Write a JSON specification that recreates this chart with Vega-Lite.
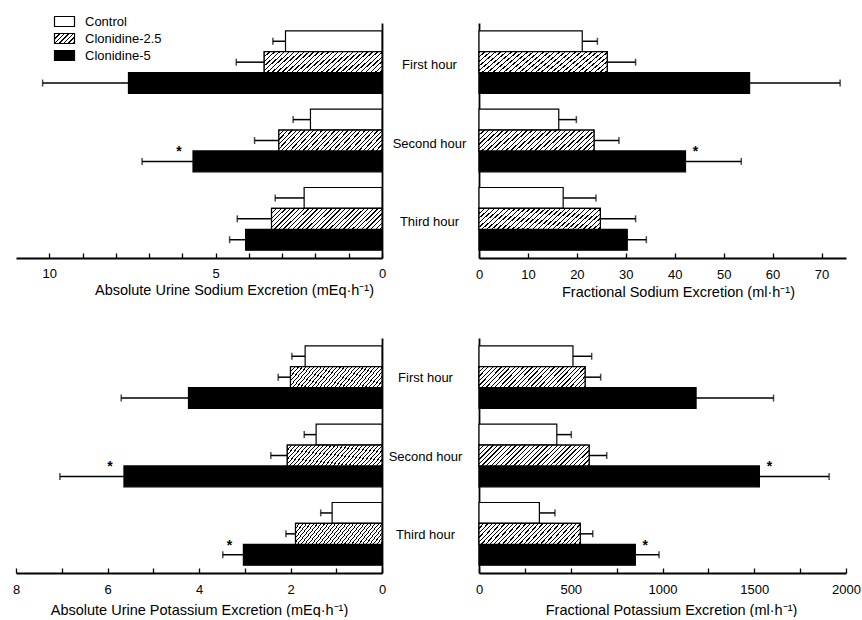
{
  "$schema": "https://vega.github.io/schema/vega-lite/v6.json",
  "background": "white",
  "padding": {"left": 12, "top": 15, "right": 0, "bottom": 0},
  "params": [
    {"name": "hatch", "value": {"gradient": "linear", "x1": 0, "y1": 0, "x2": 1.149, "y2": 0.22, "stops": [
      {"offset": 0, "color": "#000"}, {"offset": 0.01, "color": "#000"}, {"offset": 0.01, "color": "#fff"}, {"offset": 0.035, "color": "#fff"},
      {"offset": 0.035, "color": "#000"}, {"offset": 0.045, "color": "#000"}, {"offset": 0.045, "color": "#fff"}, {"offset": 0.07, "color": "#fff"},
      {"offset": 0.07, "color": "#000"}, {"offset": 0.08, "color": "#000"}, {"offset": 0.08, "color": "#fff"}, {"offset": 0.105, "color": "#fff"},
      {"offset": 0.105, "color": "#000"}, {"offset": 0.115, "color": "#000"}, {"offset": 0.115, "color": "#fff"}, {"offset": 0.14, "color": "#fff"},
      {"offset": 0.14, "color": "#000"}, {"offset": 0.15, "color": "#000"}, {"offset": 0.15, "color": "#fff"}, {"offset": 0.175, "color": "#fff"},
      {"offset": 0.175, "color": "#000"}, {"offset": 0.185, "color": "#000"}, {"offset": 0.185, "color": "#fff"}, {"offset": 0.21, "color": "#fff"},
      {"offset": 0.21, "color": "#000"}, {"offset": 0.22, "color": "#000"}, {"offset": 0.22, "color": "#fff"}, {"offset": 0.245, "color": "#fff"},
      {"offset": 0.245, "color": "#000"}, {"offset": 0.255, "color": "#000"}, {"offset": 0.255, "color": "#fff"}, {"offset": 0.28, "color": "#fff"},
      {"offset": 0.28, "color": "#000"}, {"offset": 0.29, "color": "#000"}, {"offset": 0.29, "color": "#fff"}, {"offset": 0.315, "color": "#fff"},
      {"offset": 0.315, "color": "#000"}, {"offset": 0.325, "color": "#000"}, {"offset": 0.325, "color": "#fff"}, {"offset": 0.35, "color": "#fff"},
      {"offset": 0.35, "color": "#000"}, {"offset": 0.36, "color": "#000"}, {"offset": 0.36, "color": "#fff"}, {"offset": 0.385, "color": "#fff"},
      {"offset": 0.385, "color": "#000"}, {"offset": 0.395, "color": "#000"}, {"offset": 0.395, "color": "#fff"}, {"offset": 0.42, "color": "#fff"},
      {"offset": 0.42, "color": "#000"}, {"offset": 0.43, "color": "#000"}, {"offset": 0.43, "color": "#fff"}, {"offset": 0.455, "color": "#fff"},
      {"offset": 0.455, "color": "#000"}, {"offset": 0.465, "color": "#000"}, {"offset": 0.465, "color": "#fff"}, {"offset": 0.49, "color": "#fff"},
      {"offset": 0.49, "color": "#000"}, {"offset": 0.5, "color": "#000"}, {"offset": 0.5, "color": "#fff"}, {"offset": 0.525, "color": "#fff"},
      {"offset": 0.525, "color": "#000"}, {"offset": 0.535, "color": "#000"}, {"offset": 0.535, "color": "#fff"}, {"offset": 0.56, "color": "#fff"},
      {"offset": 0.56, "color": "#000"}, {"offset": 0.57, "color": "#000"}, {"offset": 0.57, "color": "#fff"}, {"offset": 0.595, "color": "#fff"},
      {"offset": 0.595, "color": "#000"}, {"offset": 0.605, "color": "#000"}, {"offset": 0.605, "color": "#fff"}, {"offset": 0.63, "color": "#fff"},
      {"offset": 0.63, "color": "#000"}, {"offset": 0.64, "color": "#000"}, {"offset": 0.64, "color": "#fff"}, {"offset": 0.665, "color": "#fff"},
      {"offset": 0.665, "color": "#000"}, {"offset": 0.675, "color": "#000"}, {"offset": 0.675, "color": "#fff"}, {"offset": 0.7, "color": "#fff"},
      {"offset": 0.7, "color": "#000"}, {"offset": 0.71, "color": "#000"}, {"offset": 0.71, "color": "#fff"}, {"offset": 0.735, "color": "#fff"},
      {"offset": 0.735, "color": "#000"}, {"offset": 0.745, "color": "#000"}, {"offset": 0.745, "color": "#fff"}, {"offset": 0.77, "color": "#fff"},
      {"offset": 0.77, "color": "#000"}, {"offset": 0.78, "color": "#000"}, {"offset": 0.78, "color": "#fff"}, {"offset": 0.805, "color": "#fff"},
      {"offset": 0.805, "color": "#000"}, {"offset": 0.815, "color": "#000"}, {"offset": 0.815, "color": "#fff"}, {"offset": 0.84, "color": "#fff"},
      {"offset": 0.84, "color": "#000"}, {"offset": 0.85, "color": "#000"}, {"offset": 0.85, "color": "#fff"}, {"offset": 0.875, "color": "#fff"},
      {"offset": 0.875, "color": "#000"}, {"offset": 0.885, "color": "#000"}, {"offset": 0.885, "color": "#fff"}, {"offset": 0.91, "color": "#fff"},
      {"offset": 0.91, "color": "#000"}, {"offset": 0.92, "color": "#000"}, {"offset": 0.92, "color": "#fff"}, {"offset": 0.945, "color": "#fff"},
      {"offset": 0.945, "color": "#000"}, {"offset": 0.955, "color": "#000"}, {"offset": 0.955, "color": "#fff"}, {"offset": 0.98, "color": "#fff"},
      {"offset": 0.98, "color": "#000"}, {"offset": 0.99, "color": "#000"}, {"offset": 0.99, "color": "#fff"}, {"offset": 1, "color": "#fff"}
    ]}},
    {"name": "hatchLegend", "value": {"gradient": "linear", "x1": 0, "y1": 0, "x2": 1.2, "y2": 0.6, "stops": [
      {"offset": 0, "color": "#000"}, {"offset": 0.05, "color": "#000"}, {"offset": 0.05, "color": "#fff"}, {"offset": 0.15, "color": "#fff"},
      {"offset": 0.15, "color": "#000"}, {"offset": 0.2, "color": "#000"}, {"offset": 0.2, "color": "#fff"}, {"offset": 0.3, "color": "#fff"},
      {"offset": 0.3, "color": "#000"}, {"offset": 0.35, "color": "#000"}, {"offset": 0.35, "color": "#fff"}, {"offset": 0.45, "color": "#fff"},
      {"offset": 0.45, "color": "#000"}, {"offset": 0.5, "color": "#000"}, {"offset": 0.5, "color": "#fff"}, {"offset": 0.6, "color": "#fff"},
      {"offset": 0.6, "color": "#000"}, {"offset": 0.65, "color": "#000"}, {"offset": 0.65, "color": "#fff"}, {"offset": 0.75, "color": "#fff"},
      {"offset": 0.75, "color": "#000"}, {"offset": 0.8, "color": "#000"}, {"offset": 0.8, "color": "#fff"}, {"offset": 0.9, "color": "#fff"},
      {"offset": 0.9, "color": "#000"}, {"offset": 0.95, "color": "#000"}, {"offset": 0.95, "color": "#fff"}, {"offset": 1, "color": "#fff"}
    ]}}
  ],
  "config": {
    "font": "Liberation Sans",
    "view": {"stroke": null},
    "axis": {
      "labelFont": "Liberation Sans", "labelFontSize": 13, "labelColor": "black", "labelFlush": false,
      "titleFont": "Liberation Sans", "titleFontSize": 14.5, "titleFontWeight": "normal", "titleColor": "black",
      "domainColor": "black", "domainWidth": 1.8, "tickColor": "black", "tickWidth": 1.3, "grid": false
    },
    "legend": {"labelFont": "Liberation Sans", "labelFontSize": 13, "labelColor": "black"}
  },
  "datasets": {
    "d": [
      {"m": "SA", "hour": "First hour", "group": "Control", "mean": 2.9, "upper": 3.28, "sig": false},
      {"m": "SA", "hour": "First hour", "group": "Clonidine-2.5", "mean": 3.54, "upper": 4.38, "sig": false},
      {"m": "SA", "hour": "First hour", "group": "Clonidine-5", "mean": 7.62, "upper": 10.2, "sig": false},
      {"m": "SA", "hour": "Second hour", "group": "Control", "mean": 2.15, "upper": 2.67, "sig": false},
      {"m": "SA", "hour": "Second hour", "group": "Clonidine-2.5", "mean": 3.1, "upper": 3.83, "sig": false},
      {"m": "SA", "hour": "Second hour", "group": "Clonidine-5", "mean": 5.68, "upper": 7.21, "sig": true},
      {"m": "SA", "hour": "Third hour", "group": "Control", "mean": 2.34, "upper": 3.21, "sig": false},
      {"m": "SA", "hour": "Third hour", "group": "Clonidine-2.5", "mean": 3.32, "upper": 4.35, "sig": false},
      {"m": "SA", "hour": "Third hour", "group": "Clonidine-5", "mean": 4.1, "upper": 4.58, "sig": false},
      {"m": "SF", "hour": "First hour", "group": "Control", "mean": 21.1, "upper": 24.2, "sig": false},
      {"m": "SF", "hour": "First hour", "group": "Clonidine-2.5", "mean": 26.2, "upper": 32.0, "sig": false},
      {"m": "SF", "hour": "First hour", "group": "Clonidine-5", "mean": 55.3, "upper": 73.8, "sig": false},
      {"m": "SF", "hour": "Second hour", "group": "Control", "mean": 16.3, "upper": 19.9, "sig": false},
      {"m": "SF", "hour": "Second hour", "group": "Clonidine-2.5", "mean": 23.5, "upper": 28.6, "sig": false},
      {"m": "SF", "hour": "Second hour", "group": "Clonidine-5", "mean": 42.2, "upper": 53.6, "sig": true},
      {"m": "SF", "hour": "Third hour", "group": "Control", "mean": 17.2, "upper": 23.9, "sig": false},
      {"m": "SF", "hour": "Third hour", "group": "Clonidine-2.5", "mean": 24.8, "upper": 32.0, "sig": false},
      {"m": "SF", "hour": "Third hour", "group": "Clonidine-5", "mean": 30.3, "upper": 34.2, "sig": false},
      {"m": "KA", "hour": "First hour", "group": "Control", "mean": 1.68, "upper": 1.97, "sig": false},
      {"m": "KA", "hour": "First hour", "group": "Clonidine-2.5", "mean": 2.0, "upper": 2.27, "sig": false},
      {"m": "KA", "hour": "First hour", "group": "Clonidine-5", "mean": 4.23, "upper": 5.7, "sig": false},
      {"m": "KA", "hour": "Second hour", "group": "Control", "mean": 1.44, "upper": 1.7, "sig": false},
      {"m": "KA", "hour": "Second hour", "group": "Clonidine-2.5", "mean": 2.07, "upper": 2.43, "sig": false},
      {"m": "KA", "hour": "Second hour", "group": "Clonidine-5", "mean": 5.64, "upper": 7.04, "sig": true},
      {"m": "KA", "hour": "Third hour", "group": "Control", "mean": 1.09, "upper": 1.34, "sig": false},
      {"m": "KA", "hour": "Third hour", "group": "Clonidine-2.5", "mean": 1.89, "upper": 2.1, "sig": false},
      {"m": "KA", "hour": "Third hour", "group": "Clonidine-5", "mean": 3.03, "upper": 3.48, "sig": true},
      {"m": "KF", "hour": "First hour", "group": "Control", "mean": 512, "upper": 614, "sig": false},
      {"m": "KF", "hour": "First hour", "group": "Clonidine-2.5", "mean": 578, "upper": 663, "sig": false},
      {"m": "KF", "hour": "First hour", "group": "Clonidine-5", "mean": 1183, "upper": 1605, "sig": false},
      {"m": "KF", "hour": "Second hour", "group": "Control", "mean": 424, "upper": 503, "sig": false},
      {"m": "KF", "hour": "Second hour", "group": "Clonidine-2.5", "mean": 600, "upper": 696, "sig": false},
      {"m": "KF", "hour": "Second hour", "group": "Clonidine-5", "mean": 1528, "upper": 1908, "sig": true},
      {"m": "KF", "hour": "Third hour", "group": "Control", "mean": 329, "upper": 414, "sig": false},
      {"m": "KF", "hour": "Third hour", "group": "Clonidine-2.5", "mean": 552, "upper": 620, "sig": false},
      {"m": "KF", "hour": "Third hour", "group": "Clonidine-5", "mean": 852, "upper": 981, "sig": true}
    ]
  },
  "spacing": 39,
  "resolve": {"scale": {"x": "independent", "y": "independent", "yOffset": "independent"}, "axis": {"x": "independent", "y": "independent"}},
  "vconcat": [
    {
      "bounds": "flush",
      "spacing": 97,
      "resolve": {"scale": {"x": "independent", "y": "independent", "yOffset": "independent"}, "axis": {"x": "independent", "y": "independent"}},
      "hconcat": [
        {
          "width": 366, "height": 235,
          "data": {"name": "d"},
          "transform": [{"filter": "datum.m === 'SA'"}],
          "encoding": {
            "y": {"field": "hour", "type": "nominal", "sort": ["First hour", "Second hour", "Third hour"], "scale": {"paddingInner": 0.2, "paddingOuter": 0.1},
                  "axis": {"orient": "right", "title": null, "labels": false, "ticks": false, "domain": true}},
            "yOffset": {"field": "group", "type": "nominal", "scale": {"domain": ["Control", "Clonidine-2.5", "Clonidine-5"], "paddingInner": 0, "paddingOuter": 0}},
            "x": {"field": "mean", "type": "quantitative", "scale": {"domain": [0, 11], "reverse": true, "nice": false},
                  "axis": {"title": "Absolute Urine Sodium Excretion (mEq·h⁻¹)", "values": [0, 1, 2, 3, 4, 5, 6, 7, 8, 9, 10], "labelExpr": "datum.value % 5 === 0 ? datum.label : ''", "tickSize": -5, "labelPadding": 14, "titlePadding": 3, "titleX": 218}}
          },
          "layer": [
            {"mark": {"type": "rule", "color": "black", "strokeWidth": 1.5}, "encoding": {"x2": {"field": "upper"}}},
            {"mark": {"type": "tick", "orient": "vertical", "color": "black", "size": 7, "thickness": 1.5}, "encoding": {"x": {"field": "upper", "type": "quantitative"}}},
            {"mark": {"type": "bar", "stroke": "black", "strokeWidth": 1.2},
             "encoding": {"fill": {"field": "group", "type": "nominal",
               "scale": {"domain": ["Control", "Clonidine-2.5", "Clonidine-5"], "range": ["white", {"expr": "hatchLegend"}, "black"]},
               "legend": {"orient": "none", "legendX": 42, "legendY": -8, "title": null,
                 "symbolType": "M-2,-1L2,-1L2,1L-2,1Z", "symbolSize": 100, "symbolStrokeColor": "black", "symbolStrokeWidth": 1.2,
                 "labelOffset": 14, "rowPadding": 2}}}},
            {"transform": [{"filter": "datum.group === 'Clonidine-2.5'"}], "mark": {"type": "bar", "fill": {"expr": "hatch"}, "stroke": "black", "strokeWidth": 1.2}},
            {"transform": [{"filter": "datum.sig"}], "mark": {"type": "text", "text": "*", "fontSize": 14, "fontWeight": "bold", "dx": -14, "dy": -9, "color": "black"}}
          ]
        },
        {
          "width": 367, "height": 235,
          "data": {"name": "d"},
          "transform": [{"filter": "datum.m === 'SF'"}],
          "encoding": {
            "y": {"field": "hour", "type": "nominal", "sort": ["First hour", "Second hour", "Third hour"], "scale": {"paddingInner": 0.2, "paddingOuter": 0.1},
                  "axis": {"orient": "left", "title": null, "ticks": false, "tickSize": 0, "domain": true, "labelAlign": "center", "labelBaseline": "middle", "labelPadding": 50, "labelOffset": 3}},
            "yOffset": {"field": "group", "type": "nominal", "scale": {"domain": ["Control", "Clonidine-2.5", "Clonidine-5"], "paddingInner": 0, "paddingOuter": 0}},
            "x": {"field": "mean", "type": "quantitative", "scale": {"domain": [0, 75], "nice": false},
                  "axis": {"title": "Fractional Sodium Excretion (ml·h⁻¹)", "values": [0, 10, 20, 30, 40, 50, 60, 70], "tickSize": -5, "labelPadding": 15, "titlePadding": 4, "titleX": 199}}
          },
          "layer": [
            {"mark": {"type": "rule", "color": "black", "strokeWidth": 1.5}, "encoding": {"x2": {"field": "upper"}}},
            {"mark": {"type": "tick", "orient": "vertical", "color": "black", "size": 7, "thickness": 1.5}, "encoding": {"x": {"field": "upper", "type": "quantitative"}}},
            {"mark": {"type": "bar", "stroke": "black", "strokeWidth": 1.2},
             "encoding": {"fill": {"condition": {"test": "datum.group === 'Clonidine-5'", "value": "black"}, "value": "white"}}},
            {"transform": [{"filter": "datum.group === 'Clonidine-2.5'"}], "mark": {"type": "bar", "fill": {"expr": "hatch"}, "stroke": "black", "strokeWidth": 1.2}},
            {"transform": [{"filter": "datum.sig"}], "mark": {"type": "text", "text": "*", "fontSize": 14, "fontWeight": "bold", "dx": 10, "dy": -9, "color": "black"}}
          ]
        }
      ]
    },
    {
      "bounds": "flush",
      "spacing": 97,
      "resolve": {"scale": {"x": "independent", "y": "independent", "yOffset": "independent"}, "axis": {"x": "independent", "y": "independent"}},
      "hconcat": [
        {
          "width": 366, "height": 235,
          "data": {"name": "d"},
          "transform": [{"filter": "datum.m === 'KA'"}],
          "encoding": {
            "y": {"field": "hour", "type": "nominal", "sort": ["First hour", "Second hour", "Third hour"], "scale": {"paddingInner": 0.2, "paddingOuter": 0.1},
                  "axis": {"orient": "right", "title": null, "labels": false, "ticks": false, "domain": true}},
            "yOffset": {"field": "group", "type": "nominal", "scale": {"domain": ["Control", "Clonidine-2.5", "Clonidine-5"], "paddingInner": 0, "paddingOuter": 0}},
            "x": {"field": "mean", "type": "quantitative", "scale": {"domain": [0, 8], "reverse": true, "nice": false},
                  "axis": {"title": "Absolute Urine Potassium Excretion (mEq·h⁻¹)", "values": [0, 1, 2, 3, 4, 5, 6, 7, 8], "labelExpr": "datum.value % 2 === 0 ? datum.label : ''", "tickSize": -5, "labelPadding": 15, "titlePadding": 7}}
          },
          "layer": [
            {"mark": {"type": "rule", "color": "black", "strokeWidth": 1.5}, "encoding": {"x2": {"field": "upper"}}},
            {"mark": {"type": "tick", "orient": "vertical", "color": "black", "size": 7, "thickness": 1.5}, "encoding": {"x": {"field": "upper", "type": "quantitative"}}},
            {"mark": {"type": "bar", "stroke": "black", "strokeWidth": 1.2},
             "encoding": {"fill": {"condition": {"test": "datum.group === 'Clonidine-5'", "value": "black"}, "value": "white"}}},
            {"transform": [{"filter": "datum.group === 'Clonidine-2.5'"}], "mark": {"type": "bar", "fill": {"expr": "hatch"}, "stroke": "black", "strokeWidth": 1.2}},
            {"transform": [{"filter": "datum.sig"}], "mark": {"type": "text", "text": "*", "fontSize": 14, "fontWeight": "bold", "dx": -14, "dy": -9, "color": "black"}}
          ]
        },
        {
          "width": 367, "height": 235,
          "data": {"name": "d"},
          "transform": [{"filter": "datum.m === 'KF'"}],
          "encoding": {
            "y": {"field": "hour", "type": "nominal", "sort": ["First hour", "Second hour", "Third hour"], "scale": {"paddingInner": 0.2, "paddingOuter": 0.1},
                  "axis": {"orient": "left", "title": null, "ticks": false, "tickSize": 0, "domain": true, "labelAlign": "center", "labelBaseline": "middle", "labelPadding": 54, "labelOffset": 1}},
            "yOffset": {"field": "group", "type": "nominal", "scale": {"domain": ["Control", "Clonidine-2.5", "Clonidine-5"], "paddingInner": 0, "paddingOuter": 0}},
            "x": {"field": "mean", "type": "quantitative", "scale": {"domain": [0, 2000], "nice": false},
                  "axis": {"title": "Fractional Potassium Excretion (ml·h⁻¹)", "values": [0, 250, 500, 750, 1000, 1250, 1500, 1750, 2000], "format": "d", "labelExpr": "datum.value % 500 === 0 ? datum.label : ''", "tickSize": -5, "labelPadding": 15, "titlePadding": 7, "titleX": 192}}
          },
          "layer": [
            {"mark": {"type": "rule", "color": "black", "strokeWidth": 1.5}, "encoding": {"x2": {"field": "upper"}}},
            {"mark": {"type": "tick", "orient": "vertical", "color": "black", "size": 7, "thickness": 1.5}, "encoding": {"x": {"field": "upper", "type": "quantitative"}}},
            {"mark": {"type": "bar", "stroke": "black", "strokeWidth": 1.2},
             "encoding": {"fill": {"condition": {"test": "datum.group === 'Clonidine-5'", "value": "black"}, "value": "white"}}},
            {"transform": [{"filter": "datum.group === 'Clonidine-2.5'"}], "mark": {"type": "bar", "fill": {"expr": "hatch"}, "stroke": "black", "strokeWidth": 1.2}},
            {"transform": [{"filter": "datum.sig"}], "mark": {"type": "text", "text": "*", "fontSize": 14, "fontWeight": "bold", "dx": 10, "dy": -9, "color": "black"}}
          ]
        }
      ]
    }
  ]
}
